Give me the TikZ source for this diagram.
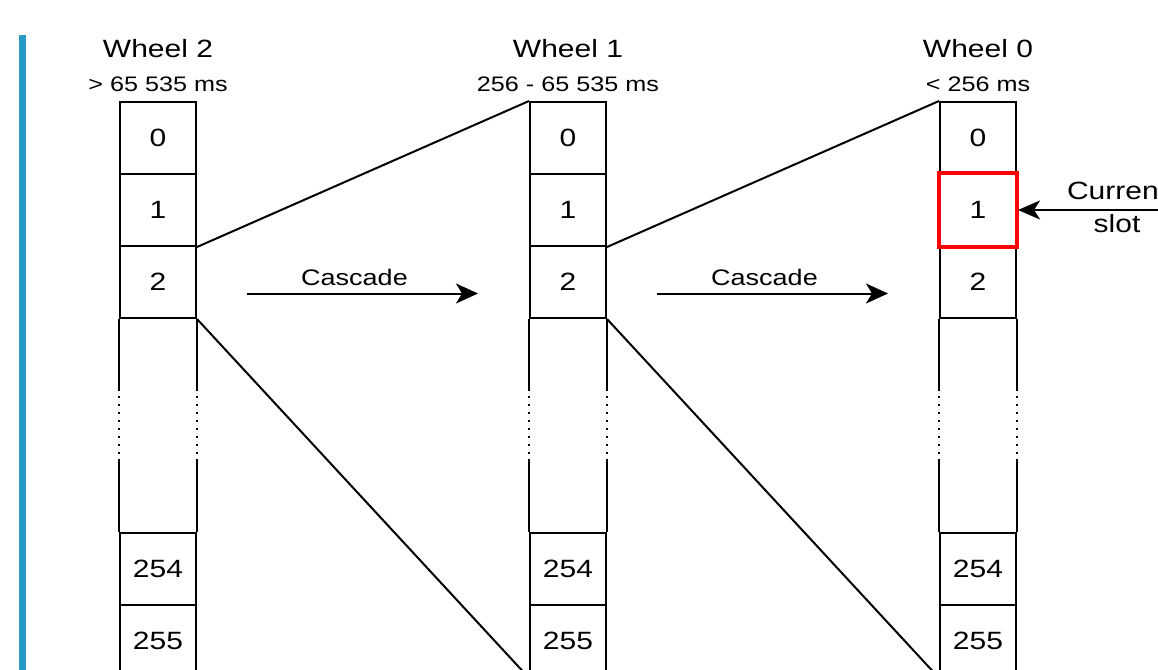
\documentclass[tikz,border=0pt]{standalone}
\usepackage{fontspec}
\setmainfont{Liberation Sans}
\usetikzlibrary{arrows.meta}
\definecolor{bluebar}{RGB}{41,154,200}
\newcommand{\hs}[1]{\scalebox{1.2}[1]{#1}}
\begin{document}
\begin{tikzpicture}[x=1pt,y=-1pt,
  cell/.style={draw=black, line width=2pt, minimum width=76pt, minimum height=72pt,
    inner sep=0pt, font=\fontsize{25}{30}\selectfont},
  title/.style={anchor=base, inner sep=0pt, font=\fontsize{25}{30}\selectfont},
  subtitle/.style={anchor=base, inner sep=0pt, font=\fontsize{21}{25}\selectfont},
  lbl/.style={anchor=base, inner sep=0pt, font=\fontsize{22.5}{26}\selectfont},
  conn/.style={line width=2pt, black},
  arr/.style={line width=2pt, black, -{Stealth[length=22pt,width=20pt,inset=6pt]}},
  dotline/.style={line width=2pt, dash pattern=on 2pt off 6pt},
  hilite/.style={draw=red, line width=3.5pt}
]
\useasboundingbox (0,0) rectangle (1158,669);
\clip (0,0) rectangle (1158,669);

% blue side bar
\fill[bluebar] (18.5,35) rectangle (25.5,680);

% wheels
\foreach \w/\cx/\sub in {2/158/{> 65 535 ms},1/568/{256 - 65 535 ms},0/978/{< 256 ms}} {
  \node[title] (t\w) at (\cx,57) {\hs{Wheel \w}};
  \node[subtitle] (s\w) at (\cx,91.5) {\hs{\sub}};
  \node[cell] (w\w c0) at (\cx,138) {\hs{0}};
  \node[cell] (w\w c1) at (\cx,210) {\hs{1}};
  \node[cell] (w\w c2) at (\cx,282) {\hs{2}};
  \node[cell] (w\w c254) at (\cx,569) {\hs{254}};
  \node[cell] (w\w c255) at (\cx,641) {\hs{255}};
  % gap with dotted section
  \draw[line width=2pt] (w\w c2.south west) -- ++(0,72);
  \draw[line width=2pt] (w\w c2.south east) -- ++(0,72);
  \draw[dotline] ([yshift=-77pt]w\w c2.south west) -- ++(0,63);
  \draw[dotline] ([yshift=-77pt]w\w c2.south east) -- ++(0,63);
  \draw[line width=2pt] (w\w c254.north west) -- ++(0,-73);
  \draw[line width=2pt] (w\w c254.north east) -- ++(0,-73);
}

% fan-out connectors
\draw[conn] (w2c1.south east) -- (w1c0.north west);
\draw[conn] (w2c2.south east) -- (w1c255.south west);
\draw[conn] (w1c1.south east) -- (w0c0.north west);
\draw[conn] (w1c2.south east) -- (w0c255.south west);

% cascade arrows
\coordinate (a1s) at (247,293.5);
\coordinate (a1e) at (478,293.5);
\coordinate (a2s) at (657,293.5);
\coordinate (a2e) at (888,293.5);
\draw[arr] (a1s) -- (a1e);
\draw[arr] (a2s) -- (a2e);
\node[lbl] (c1) at (354.5,285) {\hs{Cascade}};
\node[lbl] (c2) at (764.5,285) {\hs{Cascade}};

% current slot
\draw[hilite] (w0c1.north west) rectangle (w0c1.south east);
\node[align=center, inner sep=0pt, font=\fontsize{25}{33}\selectfont] (cur) at (1117,207.5) {\hs{Current}\\\hs{slot}};
\coordinate (cs) at (1175,210);
\draw[arr, -{Stealth[length=22pt,width=19pt,inset=6pt]}] (cs) -- ([xshift=1pt]w0c1.east);
\end{tikzpicture}
\end{document}
